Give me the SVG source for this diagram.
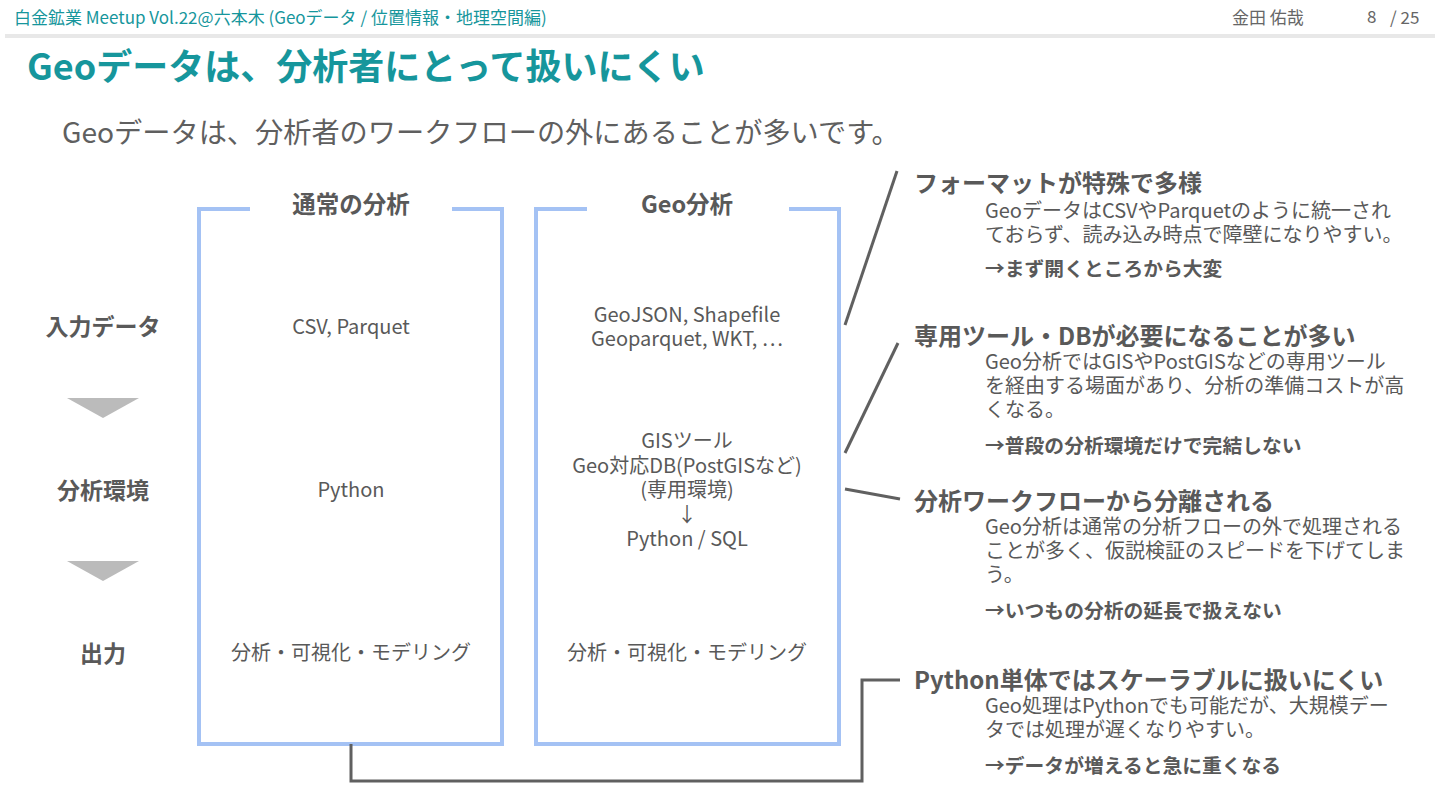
<svg xmlns="http://www.w3.org/2000/svg" width="1440" height="810" viewBox="0 0 1440 810">
<style>
text{font-family:"Noto Sans CJK JP","Noto Sans",sans-serif;fill:#595959}
.hdr{font-size:17px;fill:#16969c}
.hdr2{font-size:17px;fill:#666}
.title{font-size:36px;font-weight:700;fill:#16969c}
.sub{font-size:28.2px;fill:#5f5f5f}
.row{font-size:23px;font-weight:700;text-anchor:middle}
.bh{font-size:23.5px;font-weight:700;text-anchor:middle}
.bt{font-size:20px;text-anchor:middle}
.ht{font-size:24px;font-weight:700}
.body{font-size:20px}
.note{font-size:19.8px;font-weight:700}
.box{fill:none;stroke:#a4c2f4;stroke-width:4;stroke-linejoin:miter}
.conn{fill:none;stroke:#606060;stroke-width:3}
.tri{fill:#bbbbbb}
</style>
<rect width="1440" height="810" fill="#ffffff"/>
<g id="header">
<text class="hdr" x="14" y="24">白金鉱業 Meetup Vol.22@六本木 (Geoデータ / 位置情報・地理空間編)</text>
<text class="hdr2" x="1232" y="24">金田 佑哉</text>
<text class="hdr2" x="1367" y="23" font-size="18">8</text>
<text class="hdr2" x="1390" y="24">/ 25</text>
<line x1="5" y1="36" x2="1435" y2="36" stroke="#e8e8e8" stroke-width="4"/>
</g>
<text class="title" x="27" y="80">Geoデータは、分析者にとって扱いにくい</text>
<text class="sub" x="62" y="143">Geoデータは、分析者のワークフローの外にあることが多いです。</text>
<g id="row-labels">
<text class="row" x="103" y="335">入力データ</text>
<polygon class="tri" points="67,398 139,398 103,418"/>
<text class="row" x="103" y="499">分析環境</text>
<polygon class="tri" points="67,561 139,561 103,581"/>
<text class="row" x="103" y="662">出力</text>
</g>
<g id="box-normal">
<path class="box" d="M250,209 H199 V744 H502 V209 H452"/>
<text class="bh" x="351" y="213">通常の分析</text>
<text class="bt" x="351" y="334">CSV, Parquet</text>
<text class="bt" x="351" y="497">Python</text>
<text class="bt" x="351" y="660">分析・可視化・モデリング</text>
</g>
<g id="box-geo">
<path class="box" d="M587,209 H536 V744 H839 V209 H789"/>
<text class="bh" x="687" y="213">Geo分析</text>
<text class="bt" x="687" y="322">GeoJSON, Shapefile</text>
<text class="bt" x="687" y="346">Geoparquet, WKT, …</text>
<text class="bt" x="687" y="448">GISツール</text>
<text class="bt" x="687" y="472.5">Geo対応DB(PostGISなど)</text>
<text class="bt" x="687" y="497">(専用環境)</text>
<text class="bt" x="687" y="521.5">↓</text>
<text class="bt" x="687" y="546">Python / SQL</text>
<text class="bt" x="687" y="660">分析・可視化・モデリング</text>
</g>
<g id="connectors">
<line class="conn" x1="845" y1="325" x2="897" y2="171"/>
<line class="conn" x1="845" y1="453" x2="898" y2="343"/>
<line class="conn" x1="845" y1="489" x2="900" y2="499"/>
<path class="conn" d="M351,744 V781 H862 V680 H900"/>
</g>
<g id="point-format">
<text class="ht" x="914" y="192">フォーマットが特殊で多様</text>
<text class="body" x="985" y="218">GeoデータはCSVやParquetのように統一され</text>
<text class="body" x="985" y="242">ておらず、読み込み時点で障壁になりやすい。</text>
<text class="note" x="985" y="276">→まず開くところから大変</text>
</g>
<g id="point-tools">
<text class="ht" x="914" y="345">専用ツール・DBが必要になることが多い</text>
<text class="body" x="985" y="369">Geo分析ではGISやPostGISなどの専用ツール</text>
<text class="body" x="985" y="393">を経由する場面があり、分析の準備コストが高</text>
<text class="body" x="985" y="417">くなる。</text>
<text class="note" x="985" y="453">→普段の分析環境だけで完結しない</text>
</g>
<g id="point-workflow">
<text class="ht" x="914" y="510">分析ワークフローから分離される</text>
<text class="body" x="985" y="534">Geo分析は通常の分析フローの外で処理される</text>
<text class="body" x="985" y="558">ことが多く、仮説検証のスピードを下げてしま</text>
<text class="body" x="985" y="582">う。</text>
<text class="note" x="985" y="618">→いつもの分析の延長で扱えない</text>
</g>
<g id="point-python">
<text class="ht" x="914" y="689">Python単体ではスケーラブルに扱いにくい</text>
<text class="body" x="985" y="713">Geo処理はPythonでも可能だが、大規模デー</text>
<text class="body" x="985" y="737">タでは処理が遅くなりやすい。</text>
<text class="note" x="985" y="773">→データが増えると急に重くなる</text>
</g>
</svg>
